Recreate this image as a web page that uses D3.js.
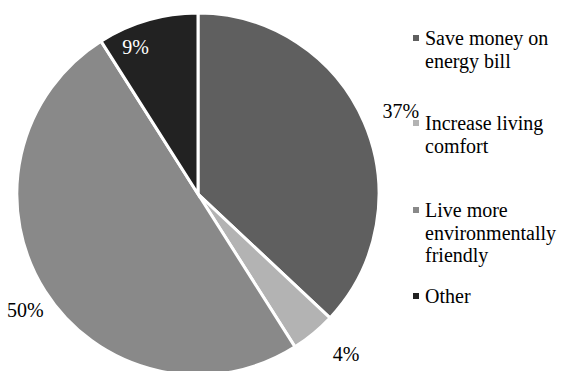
<!DOCTYPE html>
<html>
<head>
<meta charset="utf-8">
<script src="https://cdn.jsdelivr.net/npm/d3@7"></script>
</head>
<body style="margin:0">
<svg id="chart" width="564" height="371"></svg>
<script>
// Reasons for the energy upgrade (share of respondents, %)
const categories = [
  "Save money on energy bill",
  "Increase living comfort",
  "Live more environmentally friendly",
  "Other"
];
const shares = [37, 4, 50, 9];
const legendLines = [
  ["Save money on", "energy bill"],
  ["Increase living", "comfort"],
  ["Live more", "environmentally", "friendly"],
  ["Other"]
];
const sliceColors = ["#5f5f5f", "#b3b3b3", "#898989", "#222222"];

// Label placement per slice: distance from centre and small angular nudge (degrees)
const labelPlacement = [
  { r: 219, nudge: 1.2, fill: "#000" },
  { r: 218, nudge: -3.2, fill: "#000" },
  { r: 208, nudge: -1.5, fill: "#000" },
  { r: 160, nudge: -6.8, fill: "#fff" }
];

const svg = d3.select("#chart");
const cx = 198, cy = 194, R = 181;

const data = categories.map((c, i) => ({ name: c, value: shares[i], i }));

const pie = d3.pie().value(d => d.value).sort(null);
const arc = d3.arc().innerRadius(0).outerRadius(R);
const arcs = pie(data);

const g = svg.append("g").attr("transform", `translate(${cx},${cy})`);

g.selectAll("path.slice")
  .data(arcs)
  .join("path")
  .attr("class", "slice")
  .attr("d", arc)
  .attr("fill", d => sliceColors[d.data.i])
  .attr("stroke", "#fff")
  .attr("stroke-width", 3)
  .attr("stroke-linejoin", "miter");

// Percentage labels
g.selectAll("text.pct")
  .data(arcs)
  .join("text")
  .attr("class", "pct")
  .style("font-family", '"Times New Roman"')
  .style("font-size", "20px")
  .attr("text-anchor", "middle")
  .attr("dy", "0.35em")
  .attr("fill", d => labelPlacement[d.data.i].fill)
  .attr("transform", d => {
    const p = labelPlacement[d.data.i];
    const a = (d.startAngle + d.endAngle) / 2 + p.nudge * Math.PI / 180;
    return `translate(${p.r * Math.sin(a)},${-p.r * Math.cos(a)})`;
  })
  .text(d => d.data.value + "%");

// Legend: one text element per line
const legendTop = [45, 130, 217, 303];
const lineH = 22.5;
const legend = svg.append("g").attr("transform", "translate(413,0)");
const items = legend.selectAll("g.item")
  .data(data)
  .join("g")
  .attr("class", "item")
  .attr("transform", d => `translate(0,${legendTop[d.i]})`);

items.append("rect")
  .attr("x", 0)
  .attr("y", -10)
  .attr("width", 6)
  .attr("height", 6)
  .attr("fill", d => sliceColors[d.i]);

items.selectAll("text")
  .data(d => legendLines[d.i])
  .join("text")
  .attr("x", 12)
  .attr("y", (d, k) => k * lineH)
  .style("font-family", '"Times New Roman"')
  .style("font-size", "20px")
  .attr("fill", "#000")
  .text(d => d);
</script>
</body>
</html>
